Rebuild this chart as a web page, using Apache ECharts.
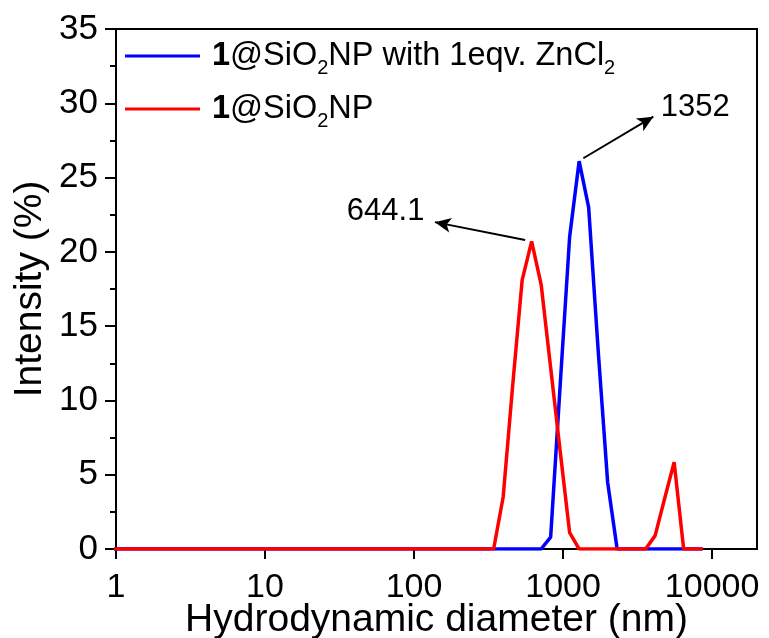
<!DOCTYPE html>
<html>
<head>
<meta charset="utf-8">
<script src="https://cdn.jsdelivr.net/npm/echarts@6/dist/echarts.min.js"></script>
<style>
html,body{margin:0;padding:0;background:#fff;}
#chart{width:769px;height:638px;}
</style>
</head>
<body>
<div id="chart"></div>
<script>
// Hydrodynamic diameter bins (nm)
var sizes = [0.9649, 1.117, 1.294, 1.499, 1.736, 2.010, 2.328, 2.696, 3.122, 3.615,
  4.187, 4.849, 5.615, 6.503, 7.531, 8.721, 10.10, 11.70, 13.54, 15.69,
  18.17, 21.04, 24.36, 28.21, 32.67, 37.84, 43.82, 50.75, 58.77, 68.06,
  78.82, 91.28, 105.7, 122.4, 141.8, 164.2, 190.1, 220.2, 255.0, 295.3,
  342.0, 396.1, 458.7, 531.2, 615.1, 712.4, 825.0, 955.4, 1106, 1281,
  1484, 1718, 1990, 2305, 2669, 3091, 3580, 4145, 4801, 5560,
  6439, 7456, 8635];

// Intensity (%) — 1@SiO2NP with 1eqv. ZnCl2
var blueValues = [0, 0, 0, 0, 0, 0, 0, 0, 0, 0,
  0, 0, 0, 0, 0, 0, 0, 0, 0, 0,
  0, 0, 0, 0, 0, 0, 0, 0, 0, 0,
  0, 0, 0, 0, 0, 0, 0, 0, 0, 0,
  0, 0, 0, 0, 0, 0, 0.8, 11.0, 21.0, 26.1,
  23.0, 13.4, 4.5, 0, 0, 0, 0, 0, 0, 0,
  0, 0, 0];

// Intensity (%) — 1@SiO2NP
var redValues = [0, 0, 0, 0, 0, 0, 0, 0, 0, 0,
  0, 0, 0, 0, 0, 0, 0, 0, 0, 0,
  0, 0, 0, 0, 0, 0, 0, 0, 0, 0,
  0, 0, 0, 0, 0, 0, 0, 0, 0, 0,
  0, 3.5, 11.0, 18.1, 20.7, 17.8, 12.2, 6.6, 1.1, 0,
  0, 0, 0, 0, 0, 0, 0, 0.9, 3.4, 5.85,
  0, 0, 0];

var seriesNames = ['1@SiO2NP with 1eqv. ZnCl2', '1@SiO2NP'];
var legendRich = {
  '1@SiO2NP with 1eqv. ZnCl2': '{b|1}{n|@SiO}{s|2}{n|NP with 1eqv. ZnCl}{s|2}',
  '1@SiO2NP': '{b|1}{n|@SiO}{s|2}{n|NP}'
};

var xTickLabels = [1, 10, 100, 1000, 10000];
var yTickLabels = [0, 5, 10, 15, 20, 25, 30, 35];

// Peak annotations: arrow tail, arrow head, label position, label text
var annArrows = [
  [[556, 20.8], [138, 22.0]],
  [[1367, 26.3], [4030, 29.1]]
];
var annLabels = [
  {pos: [64.4, 22.7], text: '644.1'},
  {pos: [7691, 29.7], text: '1352'}
];

var FONT = 'Liberation Sans, Arial, sans-serif';

function pairs(xs, ys) {
  var out = [];
  for (var i = 0; i < xs.length; i++) out.push([xs[i], ys[i]]);
  return out;
}

var chart = echarts.init(document.getElementById('chart'), null, {renderer: 'canvas'});

var option = {
  animation: false,
  backgroundColor: '#fff',
  textStyle: {fontFamily: FONT},
  grid: {left: 116, right: 12, top: 29, bottom: 89, containLabel: false, outerBoundsMode: 'none',
    show: true, borderColor: '#000', borderWidth: 2, backgroundColor: 'transparent'},
  legend: {
    orient: 'vertical',
    left: 125,
    top: 34,
    padding: 0,
    itemGap: 9,
    itemWidth: 75,
    itemHeight: 3,
    icon: 'rect',
    data: seriesNames,
    formatter: function (name) { return legendRich[name]; },
    textStyle: {
      fontFamily: FONT, fontSize: 32.5, color: '#000', lineHeight: 44,
      rich: {
        b: {fontFamily: FONT, fontSize: 32.5, fontWeight: 'bold', color: '#000', lineHeight: 44, padding: [0, 0, 0, 7]},
        n: {fontFamily: FONT, fontSize: 32.5, color: '#000', lineHeight: 44},
        s: {fontFamily: FONT, fontSize: 20, color: '#000', lineHeight: 10, verticalAlign: 'bottom'}
      }
    }
  },
  xAxis: {
    type: 'log',
    logBase: 10,
    min: 1,
    max: 20000,
    interval: 1,
    name: 'Hydrodynamic diameter (nm)',
    nameLocation: 'middle',
    nameGap: 52,
    nameMoveOverlap: false,
    nameTextStyle: {fontFamily: FONT, fontSize: 39, color: '#000'},
    axisLine: {show: true, onZero: false, lineStyle: {color: '#000', width: 2}},
    axisTick: {show: true, length: 10, lineStyle: {color: '#000', width: 2}},
    minorTick: {show: false},
    splitLine: {show: false},
    axisLabel: {
      fontFamily: FONT, fontSize: 34, color: '#000', margin: 22,
      showMaxLabel: false,
      formatter: function (v) {
        var r = Math.round(v);
        return xTickLabels.indexOf(r) >= 0 ? String(r) : '';
      }
    }
  },
  yAxis: {
    type: 'value',
    min: 0,
    max: 35,
    interval: 5,
    name: 'Intensity (%)',
    nameLocation: 'middle',
    nameGap: 66,
    nameMoveOverlap: false,
    nameTextStyle: {fontFamily: FONT, fontSize: 39, color: '#000'},
    axisLine: {show: true, lineStyle: {color: '#000', width: 2}},
    axisTick: {show: true, length: 11, lineStyle: {color: '#000', width: 2}},
    minorTick: {show: true, splitNumber: 2, length: 6, lineStyle: {color: '#000', width: 2}},
    splitLine: {show: false},
    axisLabel: {
      fontFamily: FONT, fontSize: 35, color: '#000', margin: 18,
      formatter: function (v) { return yTickLabels.indexOf(v) >= 0 ? String(v) : ''; }
    }
  },
  series: [
    {
      name: seriesNames[0],
      type: 'line',
      data: pairs(sizes, blueValues),
      showSymbol: false,
      symbol: 'none',
      clip: true,
      color: '#0000FF',
      lineStyle: {color: '#0000FF', width: 3.5},
      z: 2
    },
    {
      name: seriesNames[1],
      type: 'line',
      data: pairs(sizes, redValues),
      showSymbol: false,
      symbol: 'none',
      clip: true,
      color: '#FF0000',
      lineStyle: {color: '#FF0000', width: 3.5},
      z: 3,
      markLine: {
        silent: true,
        symbol: ['none', 'arrow'],
        symbolSize: [11, 16],
        label: {show: false},
        lineStyle: {color: '#000', width: 2, type: 'solid'},
        data: annArrows.map(function (a) { return [{coord: a[0]}, {coord: a[1]}]; })
      },
      markPoint: {
        silent: true,
        symbol: 'circle',
        symbolSize: 0,
        label: {show: true, position: 'inside', fontFamily: FONT, fontSize: 31, color: '#000',
          formatter: function (p) { return p.name; }},
        data: annLabels.map(function (l) { return {name: l.text, coord: l.pos}; })
      }
    }
  ]
};

chart.setOption(option);
</script>
</body>
</html>
